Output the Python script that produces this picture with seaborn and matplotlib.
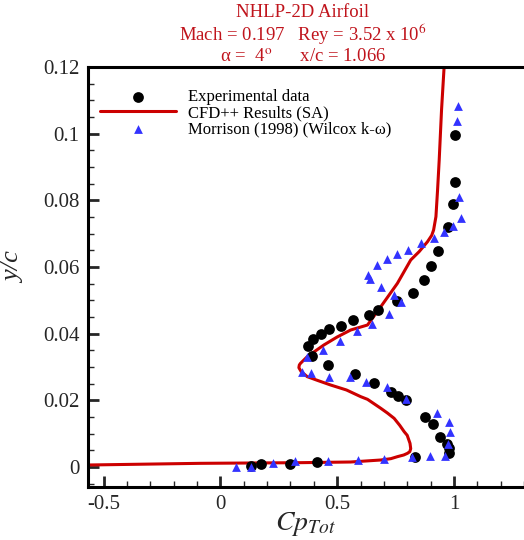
import matplotlib
matplotlib.use("Agg")
import matplotlib.pyplot as plt
import seaborn as sns
import pandas as pd
from matplotlib.ticker import MultipleLocator

# Experimental data
exp_x = [1.004, 1.004, 0.994, 0.973, 0.930, 0.901, 0.873, 0.824, 0.755, 0.675, 0.635,
         0.567, 0.518, 0.465, 0.429, 0.396, 0.375, 0.391, 0.461, 0.575, 0.658, 0.730,
         0.761, 0.794, 0.877, 0.909, 0.941, 0.969, 0.980, 0.980, 0.834, 0.415, 0.297,
         0.172, 0.129]
exp_y = [0.0995, 0.0854, 0.0788, 0.0721, 0.0649, 0.0604, 0.0561, 0.0523, 0.0498, 0.0470,
         0.0456, 0.0442, 0.0424, 0.0414, 0.0399, 0.0385, 0.0363, 0.0334, 0.0307, 0.0279,
         0.0253, 0.0226, 0.0213, 0.0201, 0.0149, 0.0128, 0.0091, 0.0069, 0.0056, 0.0041,
         0.0029, 0.0015, 0.0010, 0.0008, 0.0003]

# CFD++ results (SA)
cfd_x = [-0.567, -0.086, 0.343, 0.558, 0.687, 0.730, 0.758, 0.785, 0.801, 0.811, 0.815,
         0.812, 0.800, 0.787, 0.768, 0.744, 0.715, 0.687, 0.630, 0.601, 0.540, 0.472,
         0.415, 0.372, 0.346, 0.336, 0.338, 0.343, 0.372, 0.443, 0.500, 0.558, 0.630,
         0.687, 0.758, 0.815, 0.851, 0.887, 0.905, 0.913, 0.923, 0.930, 0.937, 0.947, 0.958]
cfd_y = [0.0006, 0.0011, 0.0013, 0.0015, 0.0021, 0.0025, 0.0031, 0.0036, 0.0041, 0.0046,
         0.0055, 0.0071, 0.0095, 0.0106, 0.0125, 0.0146, 0.0162, 0.0176, 0.0203, 0.0211,
         0.0231, 0.0246, 0.0260, 0.0271, 0.0286, 0.0298, 0.0306, 0.0311, 0.0331, 0.0366,
         0.0390, 0.0411, 0.0426, 0.0481, 0.0551, 0.0621, 0.0646, 0.0676, 0.0695, 0.0711,
         0.0751, 0.0831, 0.0921, 0.1071, 0.1200]

# Morrison (1998) (Wilcox k-omega)
mor_x = [1.019, 1.013, 1.023, 1.029, 0.994, 0.956, 0.913, 0.861, 0.804, 0.757, 0.715,
         0.670, 0.630, 0.641, 0.687, 0.743, 0.775, 0.722, 0.648, 0.585, 0.512, 0.441,
         0.372, 0.351, 0.389, 0.465, 0.554, 0.625, 0.712, 0.795, 0.926, 0.980, 0.984,
         0.973, 0.961, 0.897, 0.820, 0.701, 0.591, 0.461, 0.318, 0.226, 0.129, 0.066]
mor_y = [0.1083, 0.1038, 0.0809, 0.0748, 0.0724, 0.0705, 0.0687, 0.0672, 0.0652, 0.0638,
         0.0623, 0.0607, 0.0577, 0.0563, 0.0539, 0.0517, 0.0495, 0.0459, 0.0430, 0.0409,
         0.0377, 0.0351, 0.0331, 0.0286, 0.0281, 0.0271, 0.0269, 0.0256, 0.0239, 0.0205,
         0.0161, 0.0136, 0.0105, 0.0069, 0.0033, 0.0033, 0.0029, 0.0024, 0.0020, 0.0019,
         0.0017, 0.0013, 0.0001, 0.0001]

x_ticks = [-0.5, 0, 0.5, 1]
x_ticklabels = ["-0.5", "0", "0.5", "1"]
y_ticks = [0, 0.02, 0.04, 0.06, 0.08, 0.1, 0.12]
y_ticklabels = ["0", "0.02", "0.04", "0.06", "0.08", "0.1", "0.12"]

sns.set_style("white")
plt.rcParams["font.family"] = ["Liberation Serif", "DejaVu Serif"]
plt.rcParams["mathtext.fontset"] = "stix"

fig = plt.figure(figsize=(5.24, 5.40), dpi=100)
ax = fig.add_axes([88 / 524, 53 / 540, 439 / 524, 420 / 540])

exp_df = pd.DataFrame({"x": exp_x, "y": exp_y})
cfd_df = pd.DataFrame({"x": cfd_x, "y": cfd_y})
mor_df = pd.DataFrame({"x": mor_x, "y": mor_y})

sns.scatterplot(data=exp_df, x="x", y="y", ax=ax, marker="o", s=60, color="black",
                edgecolor="black", linewidth=0, label="Experimental data", zorder=3)
sns.lineplot(data=cfd_df, x="x", y="y", ax=ax, sort=False, estimator=None,
             color="#cc0000", linewidth=2.2, label="CFD++ Results (SA)", zorder=2)
sns.scatterplot(data=mor_df, x="x", y="y", ax=ax, marker="^", s=40, color="#3333ff",
                edgecolor="#3333ff", linewidth=0, label="Morrison (1998) (Wilcox k-\u03c9)",
                zorder=4)

ax.set_xlim(-0.567, 1.313)
ax.set_ylim(-0.006, 0.12)
ax.set_xticks(x_ticks)
ax.set_xticklabels(x_ticklabels)
ax.set_yticks(y_ticks)
ax.set_yticklabels(y_ticklabels)
ax.xaxis.set_minor_locator(MultipleLocator(0.1))
ax.yaxis.set_minor_locator(MultipleLocator(0.005))
ax.tick_params(which="major", direction="in", length=8, width=2, labelsize=15,
               bottom=True, left=True, top=False, right=False, pad=6)
ax.tick_params(which="minor", direction="in", length=4, width=1,
               bottom=True, left=True, top=False, right=False)
for s in ax.spines.values():
    s.set_linewidth(2.2)
    s.set_color("black")

ax.set_xlabel(r"$\mathit{Cp}_{\mathit{Tot}}$", fontsize=20)
ax.xaxis.set_label_coords((305 - 88) / 439, -0.055, transform=ax.transAxes)
ax.xaxis.label.set_va("top")
ax.set_ylabel("y/c", fontsize=19, style="italic")
ax.yaxis.set_label_coords((25 - 88) / 439, (487 - 268) / 420)

leg = ax.legend(loc="upper left", frameon=False, fontsize=12, handlelength=4.6,
                borderaxespad=0.3, handletextpad=0.7, labelspacing=0.0,
                bbox_to_anchor=(0.0, 0.975))
for t in leg.get_texts():
    t.set_color("black")

red = "#c0141c"
title_lines = ["NHLP-2D Airfoil",
               r"Mach = 0.197   Rey = 3.52 x 10$^{6}$",
               "\u03b1 =  4$^{\\mathrm{o}}$      x/c = 1.066"]
fig.text(0.578, 0.993, "\n".join(title_lines), ha="center", va="top", fontsize=13.5,
         color=red, linespacing=1.05, multialignment="center")

fig.savefig("out.png", dpi=100)
